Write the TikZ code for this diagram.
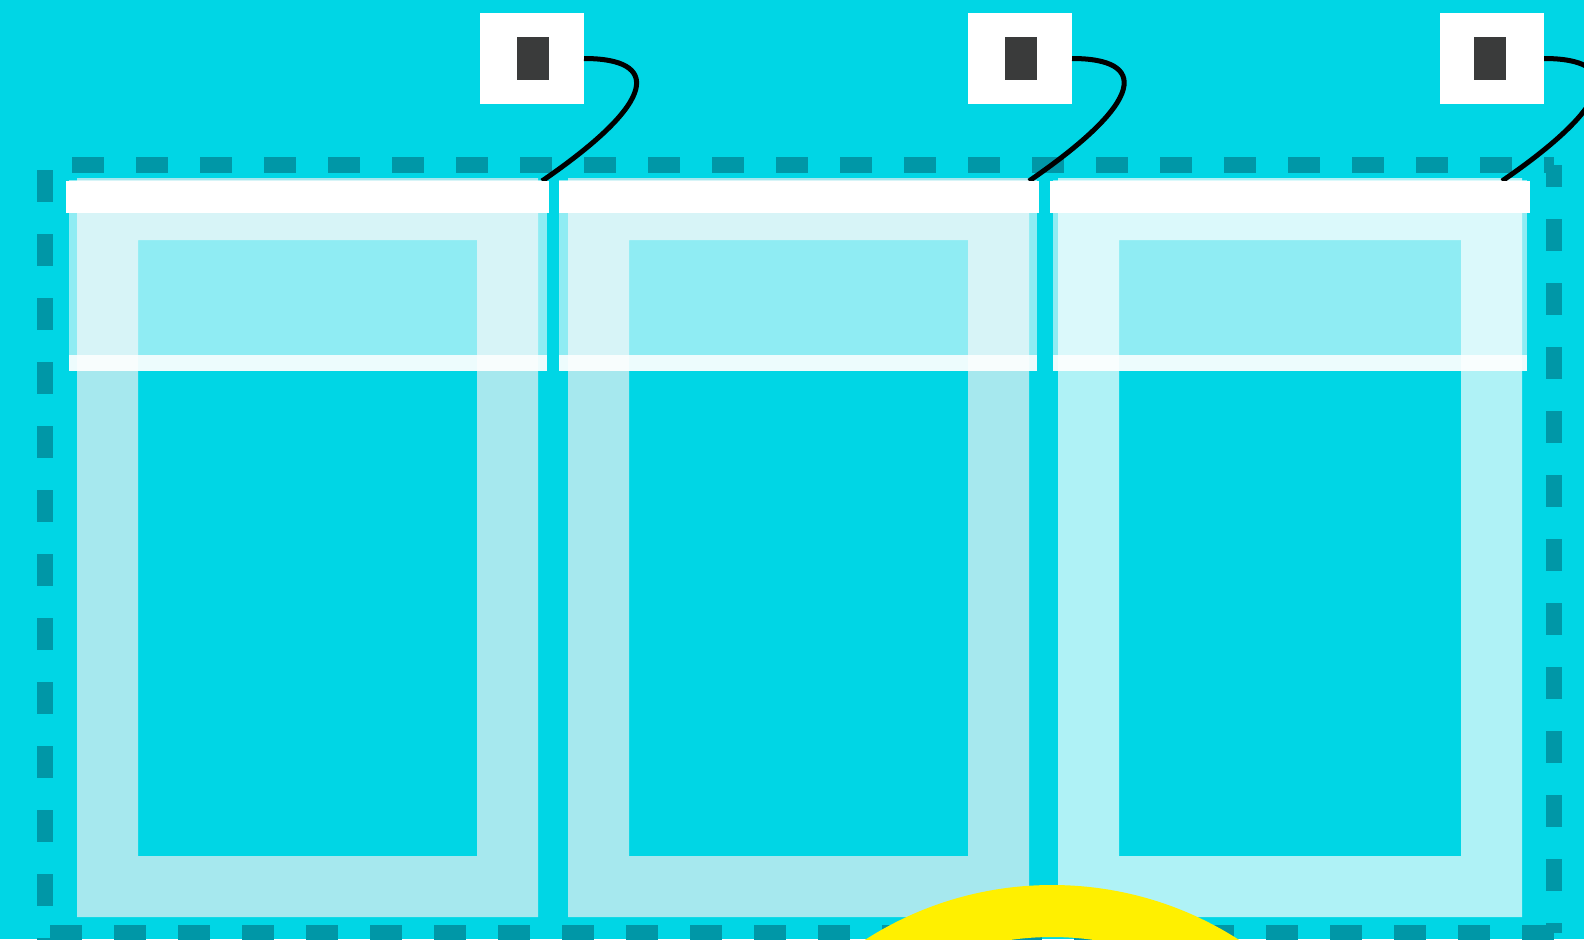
\documentclass[tikz,border=0pt]{standalone}
\definecolor{bgcol}{RGB}{0,214,229}
\definecolor{dashcol}{RGB}{0,151,167}
\definecolor{framea}{RGB}{166,232,238}
\definecolor{frameb}{RGB}{175,242,246}
\definecolor{darkgrey}{RGB}{58,59,59}
\definecolor{yel}{RGB}{255,240,0}
\begin{document}
\begin{tikzpicture}[x=0.5pt,y=-0.5pt]
\tikzset{
 border/.style={draw=dashcol,line width=8pt,dash pattern=on 16pt off 16pt},
 tagbox/.style={fill=white,minimum width=52pt,minimum height=45.5pt,inner sep=0pt,outer sep=0pt},
 tagmark/.style={fill=darkgrey,minimum width=16pt,minimum height=21.5pt,inner sep=0pt,outer sep=0pt},
 bar/.style={fill=white,inner sep=0pt,outer sep=0pt,anchor=north west,minimum height=16pt},
 wire/.style={draw=black,line width=2.5pt},
 band/.style={fill=white,opacity=0.56},
 strip/.style={fill=white,opacity=0.93},
 ring/.style={draw=yel,line width=26pt},
}
\useasboundingbox (0,0) rectangle (1584,939);
\clip (0,0) rectangle (1584,939);
\fill[bgcol] (0,0) rectangle (1584,939);
% dashed border
\draw[border] (72,165) -- (1554,165);
\draw[border,dash phase=5pt] (1554,165) -- (1554,933);
\draw[border] (50,933) -- (1554,933);
\draw[border] (45,170) -- (45,945);
% frames
\fill[framea,even odd rule] (77,178) rectangle (538,917) (138,240) rectangle (477,856);
\fill[framea,even odd rule] (568,178) rectangle (1029,917) (629,240) rectangle (968,856);
\fill[frameb,even odd rule] (1058,178) rectangle (1522,917) (1119,240) rectangle (1461,856);
% translucent bands
\fill[band] (69,180) rectangle (547,355);
\fill[strip] (69,355) rectangle (547,371);
\fill[band] (559,180) rectangle (1037,355);
\fill[strip] (559,355) rectangle (1037,371);
\fill[band] (1053,180) rectangle (1527,355);
\fill[strip] (1053,355) rectangle (1527,371);
% tags
\node[tagbox] (t1) at (532,58.5) {};
\node[tagmark] (m1) at (533,58.5) {};
\node[tagbox] (t2) at (1020,58.5) {};
\node[tagmark] (m2) at (1021,58.5) {};
\node[tagbox] (t3) at (1492,58.5) {};
\node[tagmark] (m3) at (1490,58.5) {};
% connectors
\coordinate (e1) at (542,181);
\coordinate (e2) at (1029,181);
\coordinate (e3) at (1502,181);
\draw[wire] (t1.east) .. controls +(76,0) and +(118,-81) .. (e1);
\draw[wire] (t2.east) .. controls +(76,0) and +(118,-81) .. (e2);
\draw[wire] (t3.east) .. controls +(76,0) and +(118,-81) .. (e3);
% white bars
\node[bar,minimum width=241.5pt] (bar1) at (66,181) {};
\node[bar,minimum width=240pt] (bar2) at (559,181) {};
\node[bar,minimum width=240pt] (bar3) at (1050,181) {};
% yellow ring
\draw[ring] (1052,1231) circle [radius=160pt];
\end{tikzpicture}
\end{document}
